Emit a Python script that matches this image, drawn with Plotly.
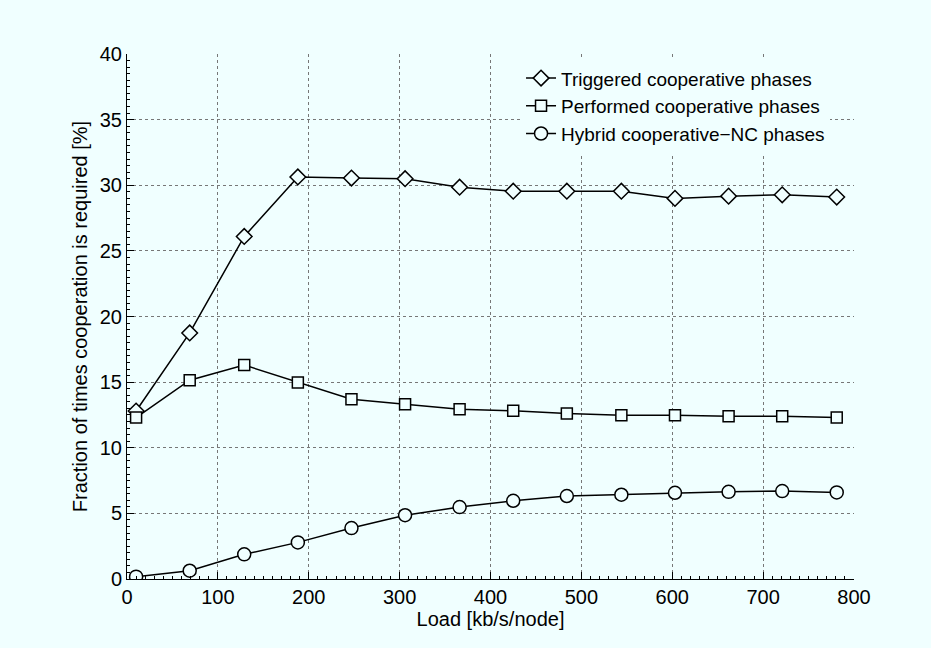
import plotly.graph_objects as go

load = [10, 69, 129, 188, 247, 306, 366, 425, 484, 544, 603, 662, 721, 781]
triggered = [12.8, 18.75, 26.1, 30.63, 30.55, 30.5, 29.85, 29.55, 29.55, 29.55, 29.0, 29.17, 29.27, 29.1]
performed = [12.3, 15.15, 16.3, 14.97, 13.7, 13.32, 12.94, 12.81, 12.61, 12.48, 12.48, 12.4, 12.4, 12.3]
hybrid = [0.18, 0.63, 1.88, 2.79, 3.88, 4.86, 5.48, 5.96, 6.32, 6.42, 6.57, 6.64, 6.7, 6.6]

names = ["Triggered cooperative phases", "Performed cooperative phases", "Hybrid cooperative\u2212NC phases"]
symbols = ["diamond", "square", "circle"]
sizes = [12, 11, 13]

BG = "#F0FFFF"
FONT = "Liberation Sans, Arial, Helvetica, sans-serif"

fig = go.Figure()
for ys, nm, sym, sz in zip([triggered, performed, hybrid], names, symbols, sizes):
    fig.add_trace(go.Scatter(
        x=load, y=ys, name=nm, mode="lines+markers",
        line=dict(color="black", width=1.5),
        marker=dict(symbol=sym, size=sz, color=BG, line=dict(color="black", width=1.5)),
    ))

axis_common = dict(
    showgrid=True, gridcolor="#777777", griddash="dot", gridwidth=1,
    showline=True, linecolor="black", linewidth=1,
    ticks="inside", ticklen=7, tickcolor="black",
    zeroline=False, mirror=False,
    tickfont=dict(size=20, color="black", family=FONT),
)

fig.update_xaxes(range=[0, 800], dtick=100, tick0=0,
                 title=dict(text="Load [kb/s/node]", font=dict(size=20, color="black", family=FONT), standoff=0),
                 minor=dict(ticks="inside", ticklen=3, dtick=10, tickcolor="black", showgrid=False),
                 **axis_common)
fig.update_yaxes(range=[0, 40], dtick=5, tick0=0,
                 title=dict(text="Fraction of times cooperation is required [%]", font=dict(size=20, color="black", family=FONT), standoff=6),
                 minor=dict(ticks="inside", ticklen=3, dtick=0.5, tickcolor="black", showgrid=False),
                 **axis_common)

fig.update_layout(
    width=931, height=648,
    paper_bgcolor=BG, plot_bgcolor=BG,
    margin=dict(l=127, r=77, t=54, b=69),
    font=dict(family=FONT, color="black"),
    legend=dict(x=0.542, y=0.99, xanchor="left", yanchor="top",
                bgcolor=BG, borderwidth=0,
                font=dict(size=19, color="black", family=FONT),
                tracegroupgap=0, itemwidth=30),
    showlegend=True,
)

fig.write_html("out.html")
